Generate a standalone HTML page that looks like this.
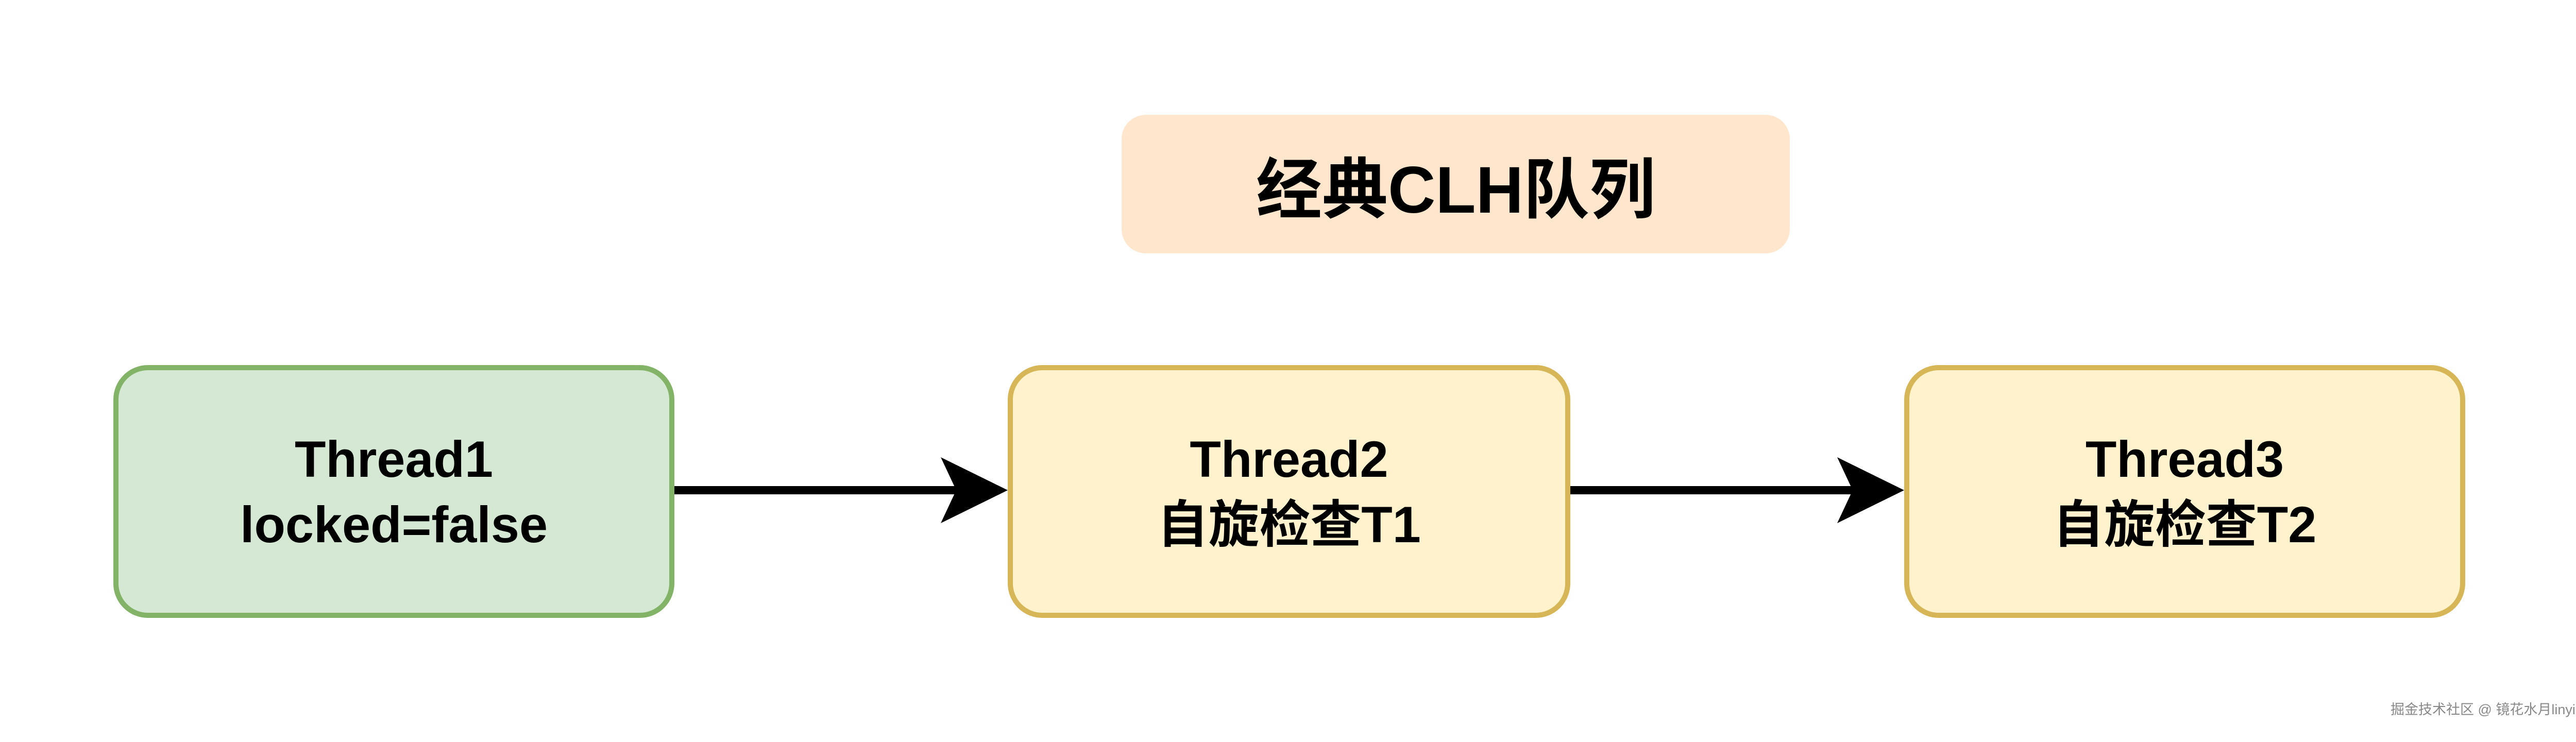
<!DOCTYPE html>
<html><head><meta charset="utf-8"><style>
html,body{margin:0;padding:0;background:#fff;}
body{width:5071px;height:1441px;position:relative;overflow:hidden;font-family:"Liberation Sans","Noto Sans CJK SC",sans-serif;}
.b{position:absolute;box-sizing:border-box;border-radius:67px;display:flex;align-items:center;justify-content:center;text-align:center;font-weight:bold;color:#000;}
.n{font-size:99px;line-height:127px;border-width:10px;border-style:solid;}
</style></head><body>
<div class="b" style="left:2177px;top:223px;width:1297px;height:269px;background:#ffe6cc;font-size:128px;border-radius:47px;">经典CLH队列</div>
<div class="b n" style="left:220px;top:709px;width:1089px;height:491px;background:#d5e8d4;border-color:#82b366;">Thread1<br>locked=false</div>
<div class="b n" style="left:1956px;top:709px;width:1092px;height:491px;background:#fff2cc;border-color:#d6b656;">Thread2<br>自旋检查T1</div>
<div class="b n" style="left:3696px;top:709px;width:1089px;height:491px;background:#fff2cc;border-color:#d6b656;">Thread3<br>自旋检查T2</div>
<svg width="5071" height="1441" style="position:absolute;left:0;top:0">
<line x1="1309" y1="952" x2="1875" y2="952" stroke="#000" stroke-width="16"/>
<polygon points="1956,952 1826,888 1856,952 1826,1016" fill="#000"/>
<line x1="3048" y1="952" x2="3617" y2="952" stroke="#000" stroke-width="16"/>
<polygon points="3696,952 3566,888 3596,952 3566,1016" fill="#000"/>
</svg>
<div style="position:absolute;left:4640px;top:1356px;font-size:27px;color:#888;white-space:nowrap;">掘金技术社区 @ 镜花水月linyi</div>
</body></html>
